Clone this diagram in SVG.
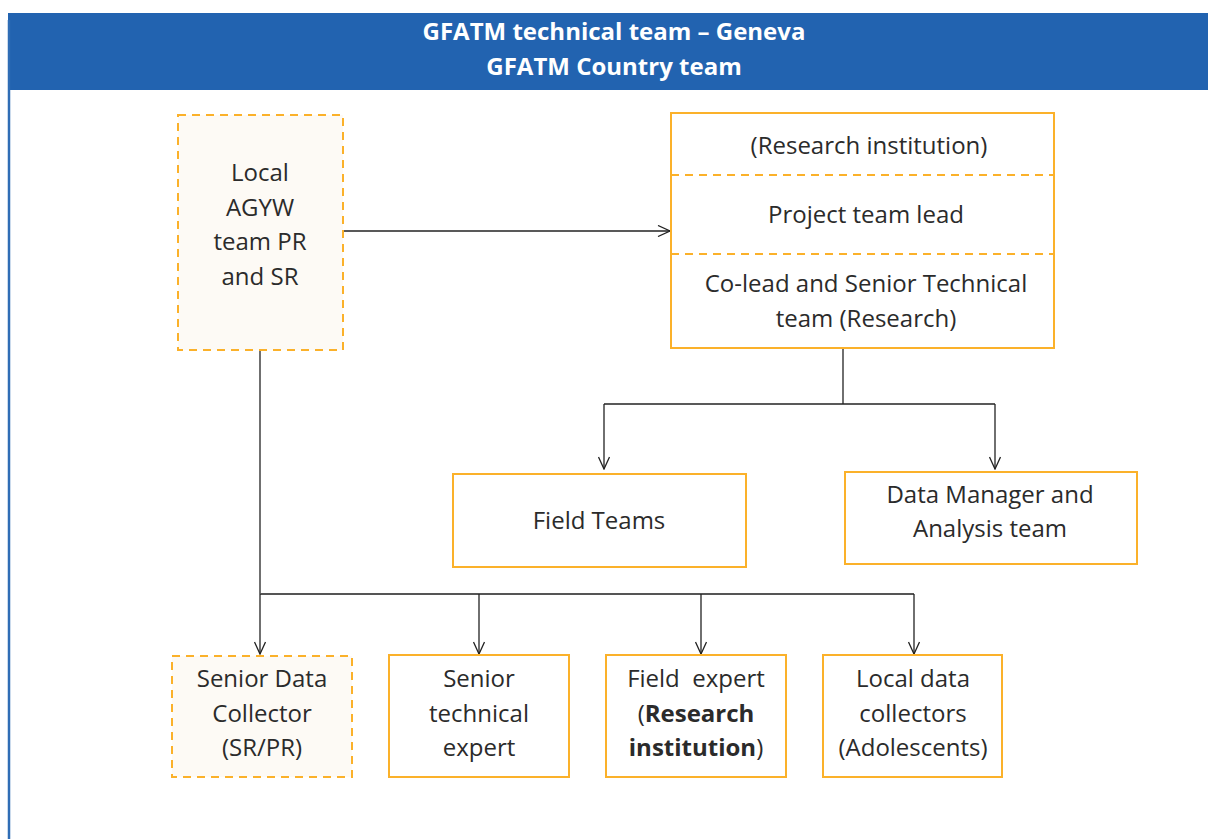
<svg xmlns="http://www.w3.org/2000/svg" width="1208" height="839" viewBox="0 0 1208 839">
<style>
text{font-family:"Open Sans","Noto Sans","Liberation Sans",sans-serif;font-size:24px;fill:#2b2b2b;text-anchor:middle}
.hd{fill:#ffffff;font-weight:bold;font-size:24px}
.box{fill:#ffffff;stroke:#fbb12a;stroke-width:2}
.dbox{fill:#fdfaf5;stroke:#fbb12a;stroke-width:2;stroke-dasharray:8 6}
.div{stroke:#fbb12a;stroke-width:2;stroke-dasharray:8 6;fill:none}
.ln{fill:none;stroke:#222;stroke-width:1.3}
.ln2{fill:none;stroke:#555;stroke-width:2}
.b{font-weight:bold}
</style>
<defs>
<marker id="arr" viewBox="0 0 14 12" refX="13" refY="6" markerWidth="14" markerHeight="12" markerUnits="userSpaceOnUse" orient="auto">
<path d="M1,0.5 L13,6 L1,11.5" fill="none" stroke="#222" stroke-width="1.3"/>
</marker>
</defs>
<rect x="0" y="0" width="1208" height="839" fill="#ffffff"/>
<g id="header">
<rect x="8" y="13" width="1200" height="77" fill="#2263b0"/>
<line x1="9" y1="20" x2="9" y2="839" stroke="#2f6db5" stroke-width="2.5"/>
<text class="hd" x="614" y="40">GFATM technical team – Geneva</text>
<text class="hd" x="614" y="75">GFATM Country team</text>
</g>
<g id="connectors">
<line class="ln" x1="343" y1="231" x2="670" y2="231" marker-end="url(#arr)"/>
<polyline class="ln" points="843,348 843,404"/>
<polyline class="ln" points="604,404 995,404"/>
<line class="ln" x1="604" y1="404" x2="604" y2="469" marker-end="url(#arr)"/>
<line class="ln" x1="995" y1="404" x2="995" y2="469" marker-end="url(#arr)"/>
<line class="ln" x1="260" y1="351" x2="260" y2="594"/>
<line class="ln2" x1="260" y1="594" x2="914" y2="594"/>
<line class="ln" x1="260" y1="594" x2="260" y2="654" marker-end="url(#arr)"/>
<line class="ln" x1="479" y1="594" x2="479" y2="654" marker-end="url(#arr)"/>
<line class="ln" x1="701" y1="594" x2="701" y2="654" marker-end="url(#arr)"/>
<line class="ln" x1="914" y1="594" x2="914" y2="654" marker-end="url(#arr)"/>
</g>
<g id="agyw">
<rect class="dbox" x="178" y="115" width="165" height="235"/>
<text x="260" y="181">Local</text>
<text x="260" y="216">AGYW</text>
<text x="260" y="250">team PR</text>
<text x="260" y="285">and SR</text>
</g>
<g id="research">
<rect class="box" x="671" y="113" width="383" height="235"/>
<line class="div" x1="671" y1="175" x2="1054" y2="175"/>
<line class="div" x1="671" y1="254" x2="1054" y2="254"/>
<text x="869" y="154">(Research institution)</text>
<text x="866" y="223">Project team lead</text>
<text x="866" y="292">Co-lead and Senior Technical</text>
<text x="866" y="327">team (Research)</text>
</g>
<g id="fieldteams">
<rect class="box" x="453" y="474" width="293" height="93"/>
<text x="599" y="529">Field Teams</text>
</g>
<g id="datamanager">
<rect class="box" x="845" y="472" width="292" height="92"/>
<text x="990" y="503">Data Manager and</text>
<text x="990" y="537">Analysis team</text>
</g>
<g id="seniordata">
<rect class="dbox" x="172" y="656" width="180" height="121"/>
<text x="262" y="687">Senior Data</text>
<text x="262" y="722">Collector</text>
<text x="262" y="756">(SR/PR)</text>
</g>
<g id="seniortech">
<rect class="box" x="389" y="655" width="180" height="122"/>
<text x="479" y="687">Senior</text>
<text x="479" y="722">technical</text>
<text x="479" y="756">expert</text>
</g>
<g id="fieldexpert">
<rect class="box" x="606" y="655" width="180" height="122"/>
<text x="696" y="687" style="white-space:pre">Field  expert</text>
<text x="696" y="722">(<tspan class="b">Research</tspan></text>
<text x="696" y="756"><tspan class="b">institution</tspan>)</text>
</g>
<g id="localdata">
<rect class="box" x="823" y="655" width="179" height="122"/>
<text x="913" y="687">Local data</text>
<text x="913" y="722">collectors</text>
<text x="913" y="756">(Adolescents)</text>
</g>
</svg>
